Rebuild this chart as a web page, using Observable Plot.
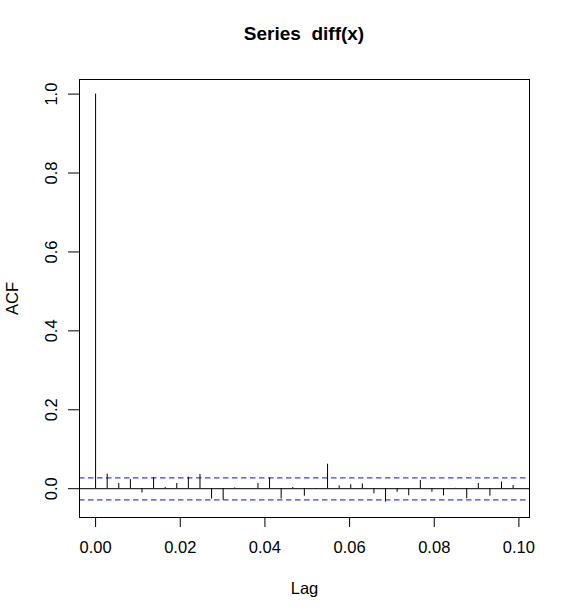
<!DOCTYPE html>
<html>
<head>
<meta charset="utf-8">
<script src="https://cdn.jsdelivr.net/npm/d3@7"></script>
<script src="https://cdn.jsdelivr.net/npm/@observablehq/plot@0.6"></script>
<style>
  html, body { margin: 0; padding: 0; background: #fff; }
  #wrap { position: relative; width: 570px; height: 616px; font-family: "Liberation Sans", Arial, Helvetica, sans-serif; }
  #title { position: absolute; left: 79px; width: 450px; top: 23px; text-align: center; font-weight: bold; font-size: 19px; color: #000; }
  svg { display: block; }
</style>
</head>
<body>
<div id="wrap">
  <div id="title">Series&nbsp; diff(x)</div>
  <div id="chart"></div>
</div>
<script>
// Data
const frequency = 365;
const lagIndex = [0,1,2,3,4,5,6,7,8,9,10,11,12,13,14,15,16,17,18,19,20,21,22,23,24,25,26,27,28,29,30,31,32,33,34,35,36];
const acfValues = [1.0, 0.037, 0.013, 0.023, -0.011, 0.028, 0.003, 0.013, 0.029, 0.036,
  -0.026, -0.029, 0.002, 0.0005, 0.013, 0.027, -0.026, 0.003, -0.019, -0.002,
  0.062, 0.007, 0.010, 0.012, -0.013, -0.034, -0.009, -0.018, 0.021, -0.009,
  -0.018, 0.001, -0.025, 0.013, -0.019, 0.017, 0.008];
const confLimit = 0.0285;
const xTicks = [0, 0.02, 0.04, 0.06, 0.08, 0.10];
const yTicks = [0, 0.2, 0.4, 0.6, 0.8, 1.0];

const rows = lagIndex.map((k, i) => ({lag: k / frequency, acf: acfValues[i]}));

const font = "Liberation Sans, Arial, Helvetica, sans-serif";

const chart = Plot.plot({
  width: 570,
  height: 616,
  marginTop: 79,
  marginRight: 41,
  marginBottom: 99,
  marginLeft: 79,
  style: {fontFamily: font, fontSize: "16.5px", color: "#000", background: "#fff"},
  x: {domain: [-0.0038, 0.1025]},
  y: {domain: [-0.073, 1.037]},
  marks: [
    Plot.ruleY([0], {stroke: "#000", strokeWidth: 1}),
    Plot.ruleY([confLimit], {stroke: "#3d3dff", strokeDasharray: "5.5,3.5", strokeWidth: 1.3, dy: 0.5}),
    Plot.ruleY([-confLimit], {stroke: "#3d3dff", strokeDasharray: "5.5,3.5", strokeWidth: 1.3}),
    Plot.ruleX(rows, {x: "lag", y1: 0, y2: "acf", stroke: "#000", strokeWidth: 1}),
    Plot.frame({stroke: "#000", strokeWidth: 1}),
    Plot.axisX({ticks: xTicks, tickFormat: d3.format(".2f"), tickSize: 10, tickPadding: 14,
      fontSize: 16.5, label: "Lag", labelAnchor: "center", labelArrow: "none", labelOffset: 76}),
    Plot.axisY({ticks: yTicks, tickFormat: d3.format(".1f"), tickSize: 11, tickPadding: 17,
      tickRotate: -90, textAnchor: "middle", lineAnchor: "middle", fontSize: 16.5,
      label: "ACF", labelAnchor: "center", labelArrow: "none", labelOffset: 73})
  ]
});
document.getElementById("chart").appendChild(chart);
</script>
</body>
</html>
